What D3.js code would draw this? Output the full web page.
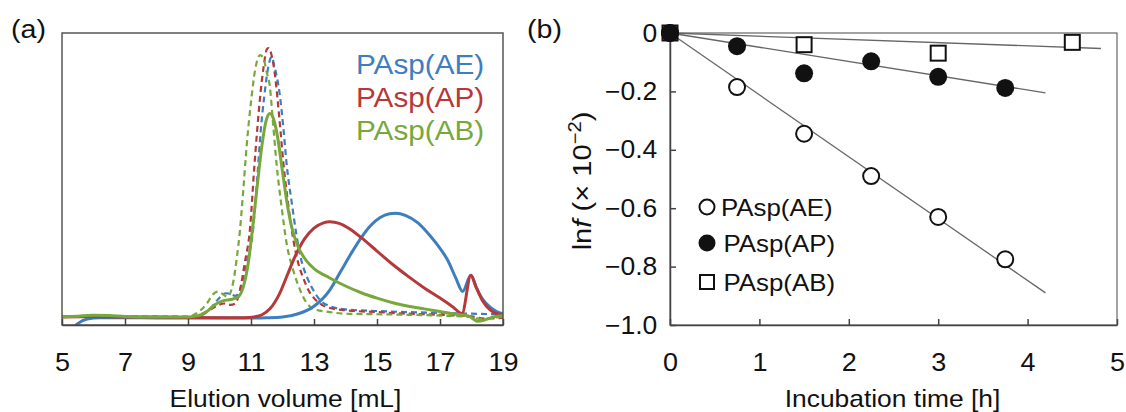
<!DOCTYPE html>
<html>
<head>
<meta charset="utf-8">
<script src="https://cdn.jsdelivr.net/npm/d3@7"></script>
<style>
  body { margin: 0; background: #fff; }
  svg { font-family: "Liberation Sans", Arial, sans-serif; }
</style>
</head>
<body>
<div id="chart"></div>
<script>
// ---- panel (a): SEC traces, [elution volume mL, normalised intensity]
const blueSolid = [[5.2,-0.06],[5.5,-0.025],[5.8,-0.008],[6.2,-0.003],[7,-0.003],[8,-0.004],[9,-0.004],[10,-0.004],[11,-0.004],[11.5,-0.003],[12.0,0.0],[12.5,0.012],[13.0,0.04],[13.5,0.1],[13.85,0.17],[14.2,0.24],[14.5,0.295],[14.8,0.34],[15.1,0.37],[15.4,0.384],[15.6,0.386],[15.9,0.378],[16.3,0.35],[16.7,0.3],[17.0,0.255],[17.25,0.21],[17.5,0.145],[17.72,0.095],[17.98,0.155],[18.15,0.11],[18.35,0.066],[18.6,0.035],[18.8,0.02],[19,0.012]];
const redSolid = [[5,0.0],[6,0.002],[7,0.0],[8,0.0],[9,-0.002],[10,-0.003],[10.8,-0.003],[11.1,0.0],[11.35,0.008],[11.6,0.03],[11.9,0.085],[12.15,0.155],[12.4,0.225],[12.7,0.29],[13.0,0.33],[13.3,0.35],[13.5,0.354],[13.8,0.348],[14.1,0.33],[14.5,0.295],[15.0,0.245],[15.5,0.195],[16.0,0.15],[16.5,0.108],[17.0,0.07],[17.4,0.038],[17.7,0.013],[17.98,0.155],[18.15,0.11],[18.35,0.06],[18.6,0.025],[18.8,0.012],[19,0.008]];
const greenSolid = [[5,0.0],[5.5,0.003],[6,0.006],[6.5,0.005],[7,0.002],[8,0.0],[9,0.0],[9.3,0.004],[9.6,0.02],[9.85,0.045],[10.1,0.06],[10.4,0.066],[10.6,0.075],[10.75,0.11],[10.9,0.19],[11.05,0.33],[11.2,0.49],[11.35,0.64],[11.48,0.73],[11.6,0.757],[11.72,0.735],[11.85,0.665],[12.0,0.54],[12.15,0.42],[12.3,0.33],[12.5,0.26],[12.75,0.21],[13.0,0.18],[13.5,0.145],[14.0,0.115],[14.5,0.09],[15.0,0.07],[15.5,0.053],[16.0,0.04],[16.5,0.03],[17.0,0.02],[17.5,0.01],[17.9,0.004],[18.2,-0.016],[18.45,-0.01],[18.7,0.0],[19,0.005]];
const redDashed = [[5,0.0],[7,0.0],[9,0.0],[9.3,0.005],[9.6,0.02],[9.9,0.04],[10.15,0.05],[10.35,0.045],[10.5,0.05],[10.65,0.1],[10.8,0.2],[10.97,0.33],[11.1,0.55],[11.2,0.7],[11.3,0.83],[11.4,0.93],[11.5,0.995],[11.55,1.0],[11.65,0.975],[11.76,0.9],[11.9,0.74],[12.03,0.57],[12.18,0.42],[12.34,0.29],[12.5,0.2],[12.66,0.145],[12.82,0.1],[13.0,0.07],[13.25,0.045],[13.5,0.033],[14,0.025],[15,0.018],[16,0.012],[17,0.008],[18,0.002],[18.4,-0.006],[19,-0.004]];
const blueDashed = [[5,0.0],[7,0.0],[9,0.0],[9.4,0.005],[9.7,0.03],[9.95,0.065],[10.2,0.088],[10.35,0.085],[10.5,0.078],[10.65,0.1],[10.85,0.2],[11.07,0.33],[11.2,0.52],[11.3,0.68],[11.42,0.82],[11.55,0.93],[11.65,0.967],[11.75,0.93],[11.92,0.82],[12.03,0.7],[12.13,0.57],[12.3,0.42],[12.45,0.3],[12.6,0.21],[12.77,0.15],[13.0,0.095],[13.19,0.063],[13.5,0.04],[14,0.028],[15,0.022],[16,0.018],[17,0.015],[18,0.012],[19,0.01]];
const greenDashed = [[5,0.0],[7,0.0],[9,0.0],[9.17,0.007],[9.4,0.025],[9.6,0.05],[9.8,0.085],[9.95,0.094],[10.1,0.085],[10.25,0.075],[10.4,0.11],[10.55,0.22],[10.65,0.323],[10.76,0.48],[10.86,0.633],[11.0,0.8],[11.13,0.918],[11.29,0.974],[11.4,0.96],[11.5,0.91],[11.6,0.856],[11.7,0.72],[11.81,0.571],[11.97,0.41],[12.13,0.274],[12.35,0.17],[12.56,0.1],[12.75,0.055],[12.98,0.03],[13.5,0.018],[14,0.012],[15,0.01],[16,0.008],[17,0.005],[18,0.0],[18.3,-0.008],[18.6,-0.004],[19,0.0]];
const seriesNames = ["PAsp(AE)", "PAsp(AP)", "PAsp(AB)"];
const seriesColors = ["#3d7ebf", "#b5393a", "#78a83c"];
const volTicks = [5, 7, 9, 11, 13, 15, 17, 19];

// ---- panel (b): ln f vs incubation time
const timesAE = [0, 0.75, 1.5, 2.25, 3, 3.75];
const lnfAE = [0, -0.185, -0.345, -0.49, -0.63, -0.775];
const timesAP = [0, 0.75, 1.5, 2.25, 3, 3.75];
const lnfAP = [0, -0.045, -0.138, -0.097, -0.15, -0.188];
const timesAB = [0, 1.5, 3, 4.5];
const lnfAB = [0, -0.04, -0.069, -0.032];
const fitAE = [[0, 0], [4.2, -0.89]];
const fitAP = [[0, 0], [4.2, -0.205]];
const fitAB = [[0, 0], [4.82, -0.053]];
const timeTicks = [0, 1, 2, 3, 4, 5];
const lnfTicks = [0, -0.2, -0.4, -0.6, -0.8, -1.0];

const W = 1126, H = 412;
const SX = 1.1;   // the figure's lettering is a bit wider than Arial
const svg = d3.select("#chart").append("svg")
  .attr("width", W).attr("height", H);

const axisColor = "#444";
const ink = "#111";

function label(x, y, str, size, anchor, color) {
  return svg.append("g")
    .attr("transform", `translate(${x},${y}) scale(${SX},1)`)
    .append("text")
    .attr("text-anchor", anchor || "start")
    .attr("font-size", size)
    .attr("fill", color || ink)
    .text(str);
}

function styleAxis(ax, sx) {
  ax.select(".domain").attr("stroke", axisColor).attr("stroke-width", 1.5);
  ax.selectAll(".tick line").attr("stroke", axisColor).attr("stroke-width", 1.5);
  ax.selectAll(".tick text").attr("font-size", 25).attr("fill", ink)
    .attr("font-family", "Liberation Sans, Arial, sans-serif")
    .attr("transform", `scale(${sx},1)`);
}

// ================= panel (a) =================
const xa = d3.scaleLinear().domain([5, 19]).range([62, 503]);
const ya = d3.scaleLinear().domain([-0.03, 1.056]).range([325, 33]);

svg.append("clipPath").attr("id", "clipA")
  .append("rect")
  .attr("x", xa(5)).attr("y", ya(1.056))
  .attr("width", xa(19) - xa(5)).attr("height", ya(-0.03) - ya(1.056));

const lineA = d3.line()
  .x(d => xa(d[0])).y(d => ya(d[1]))
  .curve(d3.curveMonotoneX);

const gA = svg.append("g").attr("clip-path", "url(#clipA)");
const dashed = [blueDashed, redDashed, greenDashed];
const solid = [blueSolid, redSolid, greenSolid];
dashed.forEach((s, i) => {
  gA.append("path").attr("d", lineA(s))
    .attr("fill", "none").attr("stroke", seriesColors[i])
    .attr("stroke-width", 2.2).attr("stroke-dasharray", "6,4");
});
solid.forEach((s, i) => {
  gA.append("path").attr("d", lineA(s))
    .attr("fill", "none").attr("stroke", seriesColors[i])
    .attr("stroke-width", 3);
});

// frame
svg.append("rect")
  .attr("x", xa(5)).attr("y", ya(1.056))
  .attr("width", xa(19) - xa(5)).attr("height", ya(-0.03) - ya(1.056))
  .attr("fill", "none").attr("stroke", "#555").attr("stroke-width", 1.5);

const axA = svg.append("g")
  .attr("transform", `translate(0,${ya(-0.03)})`)
  .call(d3.axisBottom(xa).tickValues(volTicks).tickSizeInner(-6).tickSizeOuter(0).tickPadding(28));
styleAxis(axA, 1.08);

label((xa(5) + xa(19)) / 2 + 3, 407, "Elution volume [mL]", 24, "middle");
label(11, 38, "(a)", 26);

seriesNames.forEach((n, i) => {
  label(356, 74 + i * 33, n, 27, "start", seriesColors[i]);
});

// ================= panel (b) =================
const xb = d3.scaleLinear().domain([0, 5]).range([670, 1117]);
const yb = d3.scaleLinear().domain([-1, 0]).range([325, 33]);

svg.append("rect")
  .attr("x", xb(0)).attr("y", yb(0))
  .attr("width", xb(5) - xb(0)).attr("height", yb(-1) - yb(0))
  .attr("fill", "none").attr("stroke", "#666").attr("stroke-width", 1.2);

const axBx = svg.append("g")
  .attr("transform", `translate(0,${yb(-1)})`)
  .call(d3.axisBottom(xb).tickValues(timeTicks).tickFormat(d3.format("d"))
    .tickSizeInner(-6).tickSizeOuter(0).tickPadding(28));
const axBy = svg.append("g")
  .attr("transform", `translate(${xb(0)},0)`)
  .call(d3.axisLeft(yb).tickValues(lnfTicks)
    .tickFormat(d => d === 0 ? "0" : d3.format(".1f")(d))
    .tickSizeInner(-6).tickSizeOuter(0).tickPadding(12));
styleAxis(axBx, 1.08);
styleAxis(axBy, 1.06);

label((xb(0) + xb(5)) / 2 - 1, 407, "Incubation time [h]", 24, "middle");
label(527, 38, "(b)", 26);

const yTitle = svg.append("text")
  .attr("transform", `translate(591,181) rotate(-90) scale(1.12,1)`)
  .attr("text-anchor", "middle").attr("font-size", 26).attr("fill", ink);
yTitle.append("tspan").text("ln");
yTitle.append("tspan").attr("font-style", "italic").text("f");
yTitle.append("tspan").text(" (× 10");
yTitle.append("tspan").attr("font-size", 18).attr("dy", -10).text("−2");
yTitle.append("tspan").attr("dy", 10).text(")");

const lineB = d3.line().x(d => xb(d[0])).y(d => yb(d[1]));
[fitAE, fitAP, fitAB].forEach(f => {
  svg.append("path").attr("d", lineB(f))
    .attr("fill", "none").attr("stroke", "#666").attr("stroke-width", 1.3);
});

const sq = 15, r = 8;
svg.append("g").selectAll("rect")
  .data(d3.zip(timesAB, lnfAB)).join("rect")
  .attr("x", d => xb(d[0]) - sq / 2).attr("y", d => yb(d[1]) - sq / 2)
  .attr("width", sq).attr("height", sq)
  .attr("fill", "#fff").attr("stroke", ink).attr("stroke-width", 2);
svg.append("g").selectAll("circle")
  .data(d3.zip(timesAE, lnfAE)).join("circle")
  .attr("cx", d => xb(d[0])).attr("cy", d => yb(d[1])).attr("r", r)
  .attr("fill", "#fff").attr("stroke", ink).attr("stroke-width", 2);
svg.append("g").selectAll("circle")
  .data(d3.zip(timesAP, lnfAP)).join("circle")
  .attr("cx", d => xb(d[0])).attr("cy", d => yb(d[1])).attr("r", r + 1)
  .attr("fill", ink);

// legend (b)
const legX = 707, legY = [207, 243, 282];
svg.append("circle").attr("cx", legX).attr("cy", legY[0]).attr("r", 7.5)
  .attr("fill", "#fff").attr("stroke", ink).attr("stroke-width", 2);
svg.append("circle").attr("cx", legX).attr("cy", legY[1]).attr("r", 8.5)
  .attr("fill", ink);
svg.append("rect").attr("x", legX - 7).attr("y", legY[2] - 7)
  .attr("width", 14).attr("height", 14)
  .attr("fill", "#fff").attr("stroke", ink).attr("stroke-width", 2);
seriesNames.forEach((n, i) => {
  label(i === 0 ? 721 : 723.5, legY[i] + 8.5, n, 23.5);
});
</script>
</body>
</html>
